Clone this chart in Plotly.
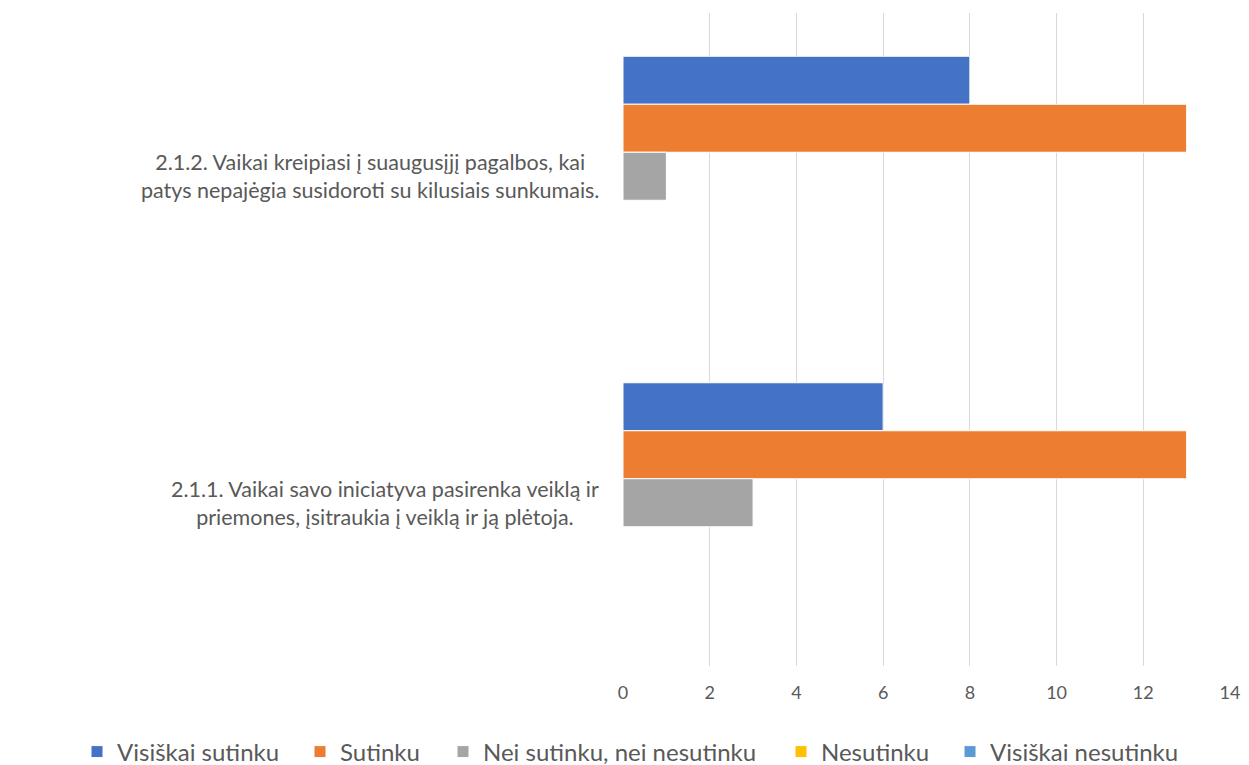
import plotly.graph_objects as go

categories = [
    '2.1.2. Vaikai kreipiasi į suaugusįjį pagalbos, kai<br>patys nepajėgia susidoroti su kilusiais sunkumais.',
    '2.1.1. Vaikai savo iniciatyva pasirenka veiklą ir<br>priemones, įsitraukia į veiklą ir ją plėtoja.',
]
series_names = ['Visiškai sutinku', 'Sutinku', 'Nei sutinku, nei nesutinku',
                'Nesutinku', 'Visiškai nesutinku']
visiskai_sutinku = [8, 6]
sutinku = [13, 13]
nei_nei = [1, 3]
nesutinku = [0, 0]
visiskai_nesutinku = [0, 0]
x_ticks = [0, 2, 4, 6, 8, 10, 12, 14]

colors = ['#4472C4', '#ED7D31', '#A5A5A5', '#FFC000', '#5B9BD5']
values = [visiskai_sutinku, sutinku, nei_nei, nesutinku, visiskai_nesutinku]

FONT = 'Lato'
TXT = '#595959'

# plot area in page pixels: x 623..1230, y 13..666
PL, PW, PT, PH = 623, 607, 13, 653
legend_px = [77, 300, 443, 781, 950]   # left edge of each legend entry

fig = go.Figure()
for i, (name, vals, col) in enumerate(zip(series_names, values, colors)):
    fig.add_trace(go.Bar(
        y=categories, x=vals, name=name, orientation='h',
        marker=dict(color=col, line=dict(color='white', width=1)),
        legend='legend' if i == 0 else 'legend%d' % (i + 1),
        showlegend=True,
    ))

# category labels, centred like the original
annotations = []
for cat in categories:
    annotations.append(dict(xref='paper', yref='y', x=-0.037, y=cat,
                            xanchor='right', yanchor='middle', align='center',
                            text=cat, showarrow=False,
                            font=dict(family=FONT, size=21.5, color=TXT)))

legends = {}
for i, px in enumerate(legend_px):
    key = 'legend' if i == 0 else 'legend%d' % (i + 1)
    legends[key] = dict(orientation='h', xref='paper', x=(px - PL) / PW,
                        xanchor='left', yref='paper',
                        y=-(752 - (PT + PH)) / PH, yanchor='middle',
                        font=dict(family=FONT, size=24, color=TXT),
                        itemwidth=30)

# page body has an 8px margin, so the figure is a bit smaller than the window
fig.update_layout(
    showlegend=True,
    barmode='group',
    bargap=0.265,
    bargroupgap=0,
    plot_bgcolor='white',
    paper_bgcolor='white',
    width=1241, height=757,
    margin=dict(l=PL - 8, r=1241 - (PL - 8) - PW, t=PT - 8,
                b=757 - (PT - 8) - PH, autoexpand=False),
    xaxis=dict(range=[0, 14], tickvals=x_ticks, showgrid=True,
               gridcolor='#D9D9D9', gridwidth=1, zeroline=False,
               showline=False, ticks='', ticklabelstandoff=14,
               automargin=False,
               tickfont=dict(family=FONT, size=18, color=TXT)),
    yaxis=dict(autorange='reversed', showticklabels=False, showgrid=False,
               zeroline=False, showline=False, automargin=False),
    annotations=annotations,
    **legends,
)

fig.write_html('out.html')
